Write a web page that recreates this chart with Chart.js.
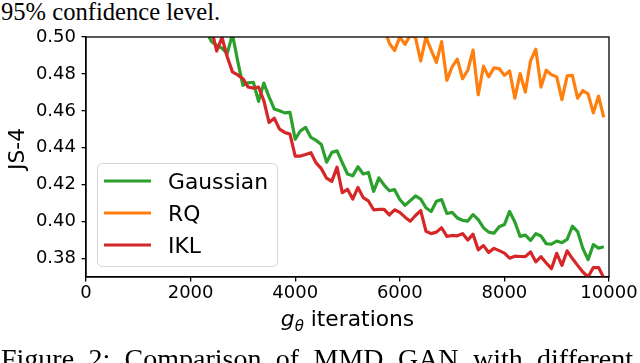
<!DOCTYPE html>
<html><head><meta charset="utf-8">
<script src="https://cdn.jsdelivr.net/npm/chart.js@4.4.1/dist/chart.umd.min.js"></script>
<style>
html,body{margin:0;padding:0;width:640px;height:363px;overflow:hidden;background:#fff;}
#wrap{position:relative;width:640px;height:363px;overflow:hidden;}
canvas{position:absolute;left:0;top:0;}
.serif{position:absolute;font-family:"Liberation Serif","DejaVu Serif",serif;color:#000;white-space:nowrap;}
#xt{position:absolute;left:147.5px;width:400px;text-align:center;top:307.5px;font-family:"DejaVu Sans";font-size:21.8px;line-height:21.8px;color:#000;white-space:nowrap;}
#yt{position:absolute;left:-33px;top:137px;width:100px;height:24px;text-align:center;font-family:"DejaVu Sans";font-size:21.8px;line-height:24px;color:#000;white-space:nowrap;transform:rotate(-90deg);transform-origin:50% 50%;}
</style></head>
<body><div id="wrap">
<div class="serif" id="toptext" style="left:1px;top:0px;font-size:24.6px;line-height:24.6px;">95% confidence level.</div>
<canvas id="c" width="640" height="363"></canvas>
<div id="yt">JS-4</div>
<div id="xt"><span style="font-style:italic">g</span><span style="font-style:italic;font-size:15px;position:relative;top:5px">θ</span> iterations</div>
<div class="serif" id="cap" style="left:1px;top:344.5px;width:632px;font-size:28px;line-height:28px;display:flex;justify-content:space-between;">
<span>Figure</span><span>2:</span><span>Comparison</span><span>of</span><span>MMD</span><span>GAN</span><span>with</span><span>different</span>
</div>
</div>
<script>
// x categories (generator iterations)
const iterations = [2300,2400,2500,2600,2700,2800,2900,3000,3100,3200,
3300,3400,3500,3600,3700,3800,3900,4000,4100,4200,
4300,4400,4500,4600,4700,4800,4900,5000,5100,5200,
5300,5400,5500,5600,5700,5800,5900,6000,6100,6200,
6300,6400,6500,6600,6700,6800,6900,7000,7100,7200,
7300,7400,7500,7600,7700,7800,7900,8000,8100,8200,
8300,8400,8500,8600,8700,8800,8900,9000,9100,9200,
9300,9400,9500,9600,9700,9800,9900];

const gaussian = [0.503,0.4975,0.4955,0.494,0.491,0.5015,0.4870,0.4738,0.4752,0.4755,
0.4652,0.4750,0.4676,0.4610,0.4601,0.4589,0.4592,0.4446,0.4492,0.4510,
0.4456,0.4440,0.4418,0.4322,0.4375,0.4383,0.4319,0.4258,0.4248,0.4297,
0.4258,0.4266,0.4164,0.4237,0.4198,0.4167,0.4173,0.4120,0.4088,0.4114,
0.4139,0.4122,0.4075,0.4055,0.4110,0.4119,0.4044,0.4050,0.4020,0.4007,
0.4003,0.4038,0.4011,0.3967,0.3943,0.3937,0.3972,0.3984,0.4055,0.3998,
0.3920,0.3927,0.3898,0.3935,0.3922,0.3880,0.3878,0.3895,0.3886,0.3904,
0.3975,0.3946,0.3855,0.3794,0.3875,0.3856,0.3864];

// values before 5700 lie above the visible range (not readable)
const rq = [null,null,null,null,null,null,null,null,null,null,
null,null,null,null,null,null,null,null,null,null,
null,null,null,null,null,null,null,null,null,null,
null,null,null,null,0.505,0.4966,0.4926,0.5000,0.4960,0.5010,
0.4997,0.4870,0.5000,0.4929,0.4862,0.4975,0.4765,0.4838,0.4880,0.4774,
0.4820,0.4929,0.4687,0.4842,0.4784,0.4833,0.4829,0.4792,0.4816,0.4669,
0.4802,0.4702,0.4871,0.4934,0.4729,0.4820,0.4796,0.4784,0.4661,0.4789,
0.4792,0.4669,0.4710,0.4692,0.4589,0.4680,0.4565];

const ikl = [null,0.504,0.4924,0.4998,0.4893,0.4811,0.4795,0.4774,0.4729,0.4723,
0.4729,0.4656,0.4537,0.4560,0.4501,0.4483,0.4474,0.4355,0.4355,0.4364,
0.4373,0.4318,0.4287,0.4235,0.4218,0.4295,0.4157,0.4175,0.4122,0.4185,
0.4130,0.4112,0.4064,0.4066,0.4066,0.4036,0.4064,0.4050,0.4024,0.4002,
0.4033,0.4060,0.3948,0.3935,0.3943,0.3967,0.3920,0.3925,0.3923,0.3935,
0.3900,0.3932,0.3847,0.3870,0.3833,0.3855,0.3843,0.3829,0.3802,0.3813,
0.3811,0.3810,0.3836,0.3782,0.3810,0.3776,0.3745,0.3828,0.3763,0.3842,
0.3800,0.3763,0.3727,0.3700,0.3751,0.3751,0.3696];

const seriesNames = ['Gaussian','RQ','IKL'];
const xTicks = [0,2000,4000,6000,8000,10000];
const yTicks = [0.38,0.40,0.42,0.44,0.46,0.48,0.50];

const pts = arr => iterations.map((x,i)=>({x:x, y:arr[i]}));

const framePlugin = {id:'frame', afterDatasetsDraw(chart){
  const {ctx, chartArea:a} = chart;
  ctx.save(); ctx.strokeStyle='#000'; ctx.lineWidth=1.3;
  ctx.strokeRect(a.left, a.top, a.right-a.left, a.bottom-a.top);
  ctx.restore();
}};

const legendPlugin = {id:'lg', afterDraw(chart){
  const ctx = chart.ctx; ctx.save();
  const x0=97, y0=163, w=180, h=103, r=5;
  ctx.beginPath();
  if (ctx.roundRect) ctx.roundRect(x0+0.5,y0+0.5,w,h,r); else ctx.rect(x0+0.5,y0+0.5,w,h);
  ctx.fillStyle='rgba(255,255,255,0.8)'; ctx.fill();
  ctx.strokeStyle='#d5d5d5'; ctx.lineWidth=1; ctx.stroke();
  const rowsY=[181,213,245];
  chart.data.datasets.forEach((ds,i)=>{
    const y = rowsY[i];
    ctx.beginPath(); ctx.moveTo(104,y); ctx.lineTo(151,y);
    ctx.strokeStyle=ds.borderColor; ctx.lineWidth=3.2; ctx.stroke();
    ctx.fillStyle='#000'; ctx.font='21.8px "DejaVu Sans"';
    ctx.textBaseline='alphabetic'; ctx.textAlign='left';
    ctx.fillText(ds.label, 168, y+7.6);
  });
  ctx.restore();
}};

const axisGrid = {drawOnChartArea:false, drawTicks:true, tickLength:4.5, color:'#000', lineWidth:1.3};
const axisBorder = {display:true, color:'#000', width:1.3};
const tickFont = {family:'DejaVu Sans', size:18};

new Chart(document.getElementById('c'), {
  type:'line',
  data:{datasets:[
    {label:seriesNames[0], data:pts(gaussian), borderColor:'#2ca02c', backgroundColor:'#2ca02c', order:3},
    {label:seriesNames[1], data:pts(rq), borderColor:'#ff7f0e', backgroundColor:'#ff7f0e', order:2},
    {label:seriesNames[2], data:pts(ikl), borderColor:'#d62728', backgroundColor:'#d62728', order:1}
  ]},
  options:{
    responsive:false, animation:false, devicePixelRatio:1,
    layout:{padding:{left:0, top:37, right:31, bottom:0}},
    elements:{line:{borderWidth:3.2, tension:0, borderJoinStyle:'round', borderCapStyle:'butt'}, point:{radius:0, hoverRadius:0}},
    datasets:{line:{clip:0, spanGaps:false, fill:false}},
    plugins:{legend:{display:false}, tooltip:{enabled:false}},
    scales:{
      x:{type:'linear', min:0, max:10000,
        afterBuildTicks:s=>{s.ticks = xTicks.map(v=>({value:v}));},
        afterFit:s=>{s.height = 86;},
        grid:axisGrid, border:axisBorder,
        ticks:{autoSkip:false, maxRotation:0, minRotation:0, padding:1.5, color:'#000', font:tickFont, callback:v=>String(v)}},
      y:{type:'linear', min:0.37, max:0.50,
        afterBuildTicks:s=>{s.ticks = yTicks.map(v=>({value:v}));},
        afterFit:s=>{s.width = 86;},
        grid:axisGrid, border:axisBorder,
        ticks:{autoSkip:false, padding:5.5, color:'#000', font:tickFont, callback:v=>Number(v).toFixed(2)}}
    }
  },
  plugins:[framePlugin, legendPlugin]
});
</script>
</body></html>
